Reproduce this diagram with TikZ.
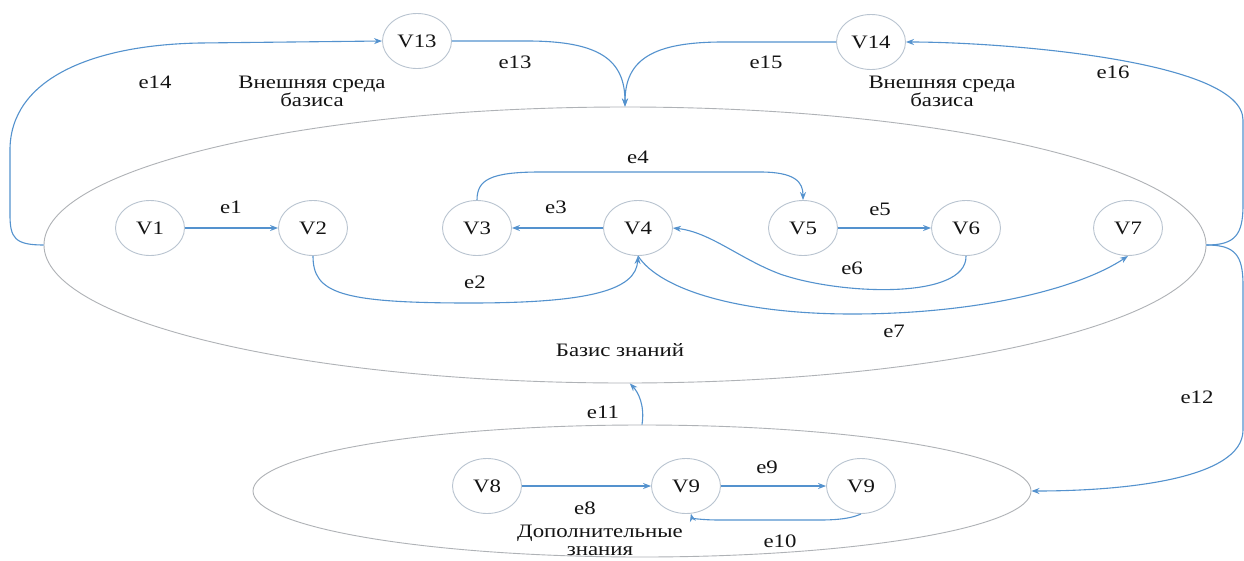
\documentclass[tikz,border=0pt]{standalone}
\usepackage{fontspec}
\setmainfont{Liberation Serif}[FakeStretch=1.2]
\usetikzlibrary{shapes.geometric,arrows.meta}
\definecolor{edgeblue}{RGB}{84,146,206}
\definecolor{circ}{RGB}{185,196,208}
\definecolor{ell}{RGB}{175,178,182}
\definecolor{txt}{RGB}{20,20,20}
\begin{document}
\begin{tikzpicture}[x=1pt,y=-1pt,
  vtx/.style={ellipse,draw=circ,line width=0.9pt,minimum width=69pt,minimum height=55pt,inner sep=0pt,text=txt,font=\fontsize{19}{19}\selectfont},
  region/.style={ellipse,draw=ell,line width=0.9pt,inner sep=0pt},
  conn/.style={draw=edgeblue,line width=1.1pt,-{Stealth[length=8pt,width=6pt]}},
  lbl/.style={text=txt,font=\fontsize{19}{18}\selectfont,align=center,inner sep=0pt}]
\fill[white] (0,0) rectangle (1244,560);
\useasboundingbox (0,0) rectangle (1244,560);
% regions
\node[region,minimum width=1162pt,minimum height=276pt] (base) at (625,245) {};
\node[region,minimum width=778pt,minimum height=132pt] (extra) at (642,491) {};
% vertices
\node[vtx] (V13) at (417,41) {V13};
\node[vtx] (V14) at (871,42) {V14};
\node[vtx] (V1) at (150,228) {V1};
\node[vtx] (V2) at (313,228) {V2};
\node[vtx] (V3) at (477,228) {V3};
\node[vtx] (V4) at (638,228) {V4};
\node[vtx] (V5) at (803,228) {V5};
\node[vtx] (V6) at (966,228) {V6};
\node[vtx] (V7) at (1128,228) {V7};
\node[vtx] (V8) at (487,486) {V8};
\node[vtx] (V9a) at (686,486) {V9};
\node[vtx] (V9b) at (861,486) {V9};
% straight edges
\draw[conn] (V1) -- (V2);
\draw[conn] (V4) -- (V3);
\draw[conn] (V5) -- (V6);
\draw[conn] (V8) -- (V9a);
\draw[conn] (V9a) -- (V9b);
% curved edges
\draw[conn] (V2.south) .. controls (313,293) and (340,303) .. (470,303) .. controls (590,303) and (636,290) .. (V4.south);
\draw[conn] (V3.north) .. controls (477,180) and (490,172) .. (540,172) -- (760,172) .. controls (795,172) and (803,182) .. (V5.north);
\draw[conn] (V6.south) .. controls (967,300) and (840,295) .. (780,274) .. controls (740,259) and (710,232) .. (V4.east);
\draw[conn] (V4.south) .. controls (660,290) and (740,314) .. (852,314) .. controls (980,314) and (1080,288) .. (V7.south);
\draw[conn] (V9b.south) .. controls (858,515) and (850,520) .. (820,520) -- (720,520) .. controls (700,520) and (692,518) .. (V9a.-80);
\draw[conn] (extra.north) .. controls (645,405) and (638,392) .. (base.-88);
\draw[conn] (base.east) .. controls (1235,245) and (1243,255) .. (1243,285) -- (1243,430) .. controls (1243,480) and (1120,491) .. (extra.east);
\draw[conn] (base.east) .. controls (1235,245) and (1243,235) .. (1243,205) -- (1243,120) .. controls (1243,60) and (1000,42) .. (V14.east);
\draw[conn] (base.west) .. controls (15,245) and (10,238) .. (10,215) -- (10,150) .. controls (10,80) and (90,45) .. (200,43) -- (V13.west);
\draw[conn] (V13.east) -- (527,41) .. controls (600,41) and (625,60) .. (base.north);
\draw[conn] (V14.west) -- (723,42) .. controls (652,42) and (625,60) .. (base.north);
% labels
\node[lbl] (l14) at (155,82) {e14};
\node[lbl] (env1) at (312,91) {Внешняя среда\\базиса};
\node[lbl] (l13) at (515,62) {e13};
\node[lbl] (l15) at (766,62) {e15};
\node[lbl] (env2) at (942,91) {Внешняя среда\\базиса};
\node[lbl] (l16) at (1113,72) {e16};
\node[lbl] (l4) at (638,157) {e4};
\node[lbl] (l1) at (231,207) {e1};
\node[lbl] (l3) at (556,207) {e3};
\node[lbl] (l5) at (880,209) {e5};
\node[lbl] (l2) at (475,282) {e2};
\node[lbl] (l6) at (852,268) {e6};
\node[lbl] (l7) at (894,331) {e7};
\node[lbl] (bl) at (620,350) {Базис знаний};
\node[lbl] (l11) at (603,412) {e11};
\node[lbl] (l12) at (1197,397) {e12};
\node[lbl] (l9) at (767,467) {e9};
\node[lbl] (l8) at (585,508) {e8};
\node[lbl] (l10) at (780,541) {e10};
\node[lbl] (dl) at (600,540) {Дополнительные\\знания};
\end{tikzpicture}
\end{document}
